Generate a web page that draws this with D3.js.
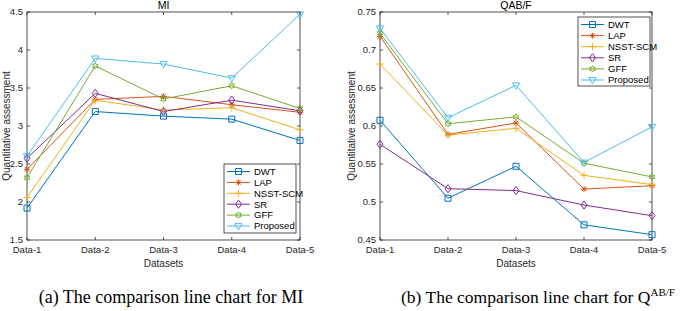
<!DOCTYPE html>
<html>
<head>
<meta charset="utf-8">
<script src="https://cdn.jsdelivr.net/npm/d3@7"></script>
<style>
  body { margin: 0; background: #fff; }
  svg text { font-family: "Liberation Sans", Arial, sans-serif; }
  .caption { font-family: "Liberation Serif", "Times New Roman", serif; }
</style>
</head>
<body>
<svg id="chart" width="685" height="311"></svg>
<script>
// 数据
const datasets = ["Data-1", "Data-2", "Data-3", "Data-4", "Data-5"];
const methods = ["DWT", "LAP", "NSST-SCM", "SR", "GFF", "Proposed"];
const colors = ["#0072BD", "#D95319", "#EDB120", "#7E2F8E", "#77AC30", "#4DBEEE"];
const markers = ["square", "asterisk", "plus", "diamond", "hexagram", "triangleDown"];

// MI
const miDWT = [1.92, 3.19, 3.13, 3.09, 2.81];
const miLAP = [2.43, 3.35, 3.39, 3.28, 3.18];
const miNSST = [2.06, 3.34, 3.21, 3.24, 2.95];
const miSR = [2.575, 3.43, 3.19, 3.34, 3.2];
const miGFF = [2.32, 3.79, 3.355, 3.53, 3.23];
const miProposed = [2.605, 3.89, 3.815, 3.63, 4.47];
const miTicks = [1.5, 2, 2.5, 3, 3.5, 4, 4.5];

// QAB/F
const qDWT = [0.6075, 0.505, 0.547, 0.470, 0.457];
const qLAP = [0.718, 0.589, 0.604, 0.517, 0.5215];
const qNSST = [0.6815, 0.588, 0.597, 0.535, 0.523];
const qSR = [0.576, 0.5175, 0.515, 0.496, 0.482];
const qGFF = [0.722, 0.603, 0.612, 0.551, 0.533];
const qProposed = [0.7285, 0.611, 0.6535, 0.552, 0.599];
const qTicks = [0.45, 0.5, 0.55, 0.6, 0.65, 0.7, 0.75];

const svg = d3.select("#chart");

// 标记形状
function markerPath(type, r) {
  const s = r;
  switch (type) {
    case "square":
      return `M${-s},${-s}H${s}V${s}H${-s}Z`;
    case "diamond":
      return `M0,${-s * 1.35}L${s},0L0,${s * 1.35}L${-s},0Z`;
    case "triangleDown":
      return `M${-s * 1.2},${-s * 0.8}L${s * 1.2},${-s * 0.8}L0,${s * 1.3}Z`;
    case "plus":
      return `M${-s * 1.2},0H${s * 1.2}M0,${-s * 1.2}V${s * 1.2}`;
    case "asterisk": {
      let p = `M${-s},0H${s}M0,${-s}V${s}`;
      const d = s * 0.75;
      p += `M${-d},${-d}L${d},${d}M${-d},${d}L${d},${-d}`;
      return p;
    }
    case "hexagram": {
      const R = s * 1.05, ri = R * 0.58;
      const pts = d3.range(12).map((i) => {
        const a = (i * Math.PI) / 6 - Math.PI / 2;
        const rr = i % 2 === 0 ? R : ri;
        return [rr * Math.cos(a), rr * Math.sin(a)];
      });
      return "M" + pts.map((p) => p.join(",")).join("L") + "Z";
    }
  }
}

function drawPanel(opt) {
  const { left, right, top, bottom, series, domain, ticks, tickFmt, title, legend, labelX } = opt;
  const g = svg.append("g");
  const x = d3.scalePoint().domain(datasets).range([left, right]);
  const y = d3.scaleLinear().domain(domain).range([bottom, top]);
  const axisColor = "#262626";
  const tl = 3;

  // 框
  g.append("rect")
    .attr("x", left).attr("y", top)
    .attr("width", right - left).attr("height", bottom - top)
    .attr("fill", "none").attr("stroke", axisColor).attr("stroke-width", 0.8);

  // y 轴刻度
  ticks.forEach((t) => {
    const yy = y(t);
    g.append("line").attr("x1", left).attr("x2", left + tl).attr("y1", yy).attr("y2", yy)
      .attr("stroke", axisColor).attr("stroke-width", 0.8);
    g.append("line").attr("x1", right).attr("x2", right - tl).attr("y1", yy).attr("y2", yy)
      .attr("stroke", axisColor).attr("stroke-width", 0.8);
    g.append("text").attr("x", left - 4).attr("y", yy).attr("dy", "0.35em")
      .attr("text-anchor", "end").attr("font-size", 9.5).attr("fill", axisColor)
      .text(tickFmt(t));
  });

  // x 轴刻度
  datasets.forEach((d) => {
    const xx = x(d);
    g.append("line").attr("x1", xx).attr("x2", xx).attr("y1", bottom).attr("y2", bottom - tl)
      .attr("stroke", axisColor).attr("stroke-width", 0.8);
    g.append("line").attr("x1", xx).attr("x2", xx).attr("y1", top).attr("y2", top + tl)
      .attr("stroke", axisColor).attr("stroke-width", 0.8);
    g.append("text").attr("x", xx).attr("y", bottom + 10).attr("dy", "0.35em")
      .attr("text-anchor", "middle").attr("font-size", 9.5).attr("fill", axisColor)
      .text(d);
  });

  // 轴标题
  g.append("text").attr("x", (left + right) / 2).attr("y", bottom + 23).attr("dy", "0.35em")
    .attr("text-anchor", "middle").attr("font-size", 10).attr("fill", axisColor).text("Datasets");
  g.append("text")
    .attr("transform", `translate(${labelX},${(top + bottom) / 2}) rotate(-90)`)
    .attr("dy", "0.35em").attr("text-anchor", "middle").attr("font-size", 10)
    .attr("fill", axisColor).text("Quantitative assessment");
  g.append("text").attr("x", (left + right) / 2).attr("y", 5).attr("dy", "0.35em")
    .attr("text-anchor", "middle").attr("font-size", 10.5).attr("fill", "#000").text(title);

  // 折线
  const line = d3.line().x((d, i) => x(datasets[i])).y((d) => y(d));
  series.forEach((vals, k) => {
    g.append("path").datum(vals).attr("d", line)
      .attr("fill", "none").attr("stroke", colors[k]).attr("stroke-width", 1);
  });
  series.forEach((vals, k) => {
    g.selectAll(null).data(vals).join("path")
      .attr("transform", (d, i) => `translate(${x(datasets[i])},${y(d)})`)
      .attr("d", markerPath(markers[k], 3))
      .attr("fill", "none").attr("stroke", colors[k]).attr("stroke-width", 1);
  });

  // 图例
  const lg = g.append("g");
  lg.append("rect").attr("x", legend.x).attr("y", legend.y)
    .attr("width", legend.w).attr("height", legend.h)
    .attr("fill", "#fff").attr("stroke", axisColor).attr("stroke-width", 0.8);
  methods.forEach((m, k) => {
    const yy = legend.y + 7.5 + k * legend.step;
    lg.append("line").attr("x1", legend.x + 3).attr("x2", legend.x + 26)
      .attr("y1", yy).attr("y2", yy).attr("stroke", colors[k]).attr("stroke-width", 1);
    lg.append("path").attr("transform", `translate(${legend.x + 14.5},${yy})`)
      .attr("d", markerPath(markers[k], 3))
      .attr("fill", "none").attr("stroke", colors[k]).attr("stroke-width", 1);
    lg.append("text").attr("x", legend.x + 30).attr("y", yy).attr("dy", "0.35em")
      .attr("font-size", 9.5).attr("fill", "#000").text(m);
  });
}

drawPanel({
  left: 27, right: 300, top: 12, bottom: 240,
  series: [miDWT, miLAP, miNSST, miSR, miGFF, miProposed],
  domain: [1.5, 4.5], ticks: miTicks,
  tickFmt: (t) => String(t),
  title: "MI", labelX: 6,
  legend: { x: 224, y: 164, w: 72, h: 69, step: 10.9 },
});

drawPanel({
  left: 380, right: 652, top: 12, bottom: 240,
  series: [qDWT, qLAP, qNSST, qSR, qGFF, qProposed],
  domain: [0.45, 0.75], ticks: qTicks,
  tickFmt: (t) => String(t),
  title: "QAB/F", labelX: 351,
  legend: { x: 578, y: 17, w: 72, h: 69, step: 11.1 },
});

// 图注
svg.append("text").attr("class", "caption")
  .attr("x", 171).attr("y", 303).attr("text-anchor", "middle")
  .attr("font-size", 18).attr("fill", "#000")
  .text("(a) The comparison line chart for MI");
const cap2 = svg.append("text").attr("class", "caption")
  .attr("x", 401).attr("y", 303).attr("font-size", 17.5).attr("fill", "#000");
cap2.append("tspan").text("(b) The comparison line chart for Q");
cap2.append("tspan").attr("font-size", 11).attr("dy", -7).text("AB/F");
</script>
</body>
</html>
